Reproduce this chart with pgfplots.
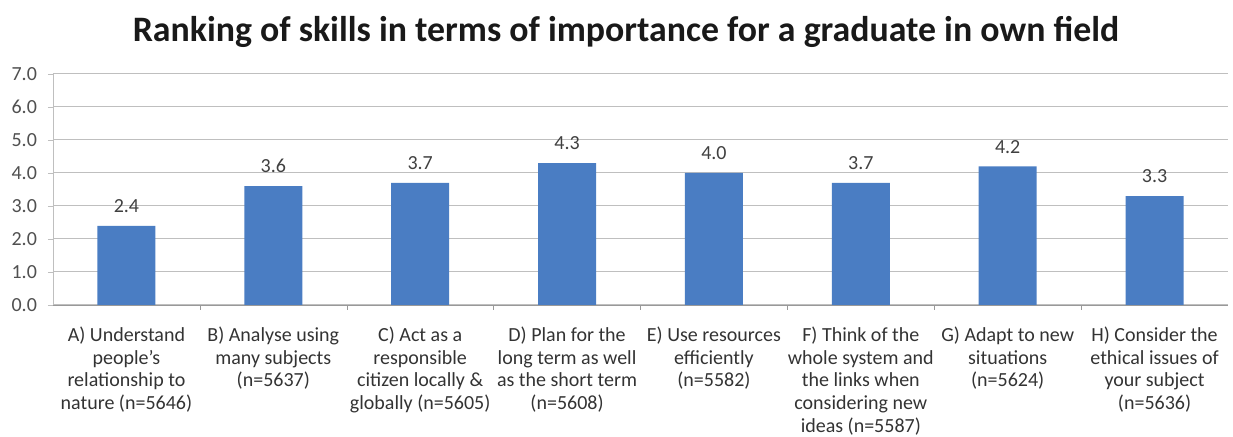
\documentclass[border=0pt]{standalone}
\usepackage{fontspec}
\setmainfont{Carlito}
\usepackage{pgfplots}
\pgfplotsset{compat=1.18}
\definecolor{barblue}{HTML}{4A7DC3}
\definecolor{gridgray}{HTML}{BFBFBF}
\definecolor{txtgray}{HTML}{505050}
\begin{document}
\begin{tikzpicture}
\begin{axis}[
  scale only axis,
  width=587.5pt, height=115.5pt,
  xmin=-0.5, xmax=7.5, ymin=0, ymax=7,
  ytick={0,1,...,7},
  yticklabel style={font=\fontsize{10}{11}\selectfont, text=txtgray, xshift=-2pt,
    /pgf/number format/fixed,/pgf/number format/fixed zerofill,/pgf/number format/precision=1,/pgf/number format/assume math mode=true},
  xtick={0,...,7},
  xticklabels={
    {A) Understand\\people's\\relationship to\\nature (n=5646)},
    {B) Analyse using\\many subjects\\(n=5637)},
    {C) Act as a\\responsible\\citizen locally \&\\globally (n=5605)},
    {D) Plan for the\\long term as well\\as the short term\\(n=5608)},
    {E) Use resources\\efficiently\\(n=5582)},
    {F) Think of the\\whole system and\\the links when\\considering new\\ideas (n=5587)},
    {G) Adapt to new\\situations\\(n=5624)},
    {H) Consider the\\ethical issues of\\your subject\\(n=5636)}},
  xticklabel style={font=\fontsize{10}{11.3}\selectfont, align=center, text=black!80, yshift=-5pt},
  major x tick style={draw=none},
  minor xtick={0.5,1.5,...,6.5},
  minor x tick style={gridgray!80!black},
  minor tick length=2.5pt,
  major tick length=2.5pt,
  tick align=outside,
  ytick style={gridgray},
  axis x line*=bottom, axis y line*=left,
  x axis line style={gridgray!80!black, -},
  y axis line style={gridgray, -},
  ymajorgrids, grid style={gridgray, line width=0.5pt},
  ybar, bar width=29pt,
  nodes near coords,
  nodes near coords style={font=\fontsize{10}{11}\selectfont, text=black!75, yshift=3pt,
     /pgf/number format/fixed,/pgf/number format/fixed zerofill,/pgf/number format/precision=1,/pgf/number format/assume math mode=true},
  clip=false,
]
\addplot[fill=barblue, draw=none] coordinates {(0,2.4) (1,3.6) (2,3.7) (3,4.3) (4,4.0) (5,3.7) (6,4.2) (7,3.3)};
\end{axis}
\node[font=\fontsize{17.9}{20}\selectfont\bfseries, anchor=base, text=black!90] at (286.5pt,131.5pt) {Ranking of skills in terms of importance for a graduate in own field};
\pgfresetboundingbox
\path (-26.5pt,-66pt) rectangle (590pt,152.5pt);
\end{tikzpicture}
\end{document}
